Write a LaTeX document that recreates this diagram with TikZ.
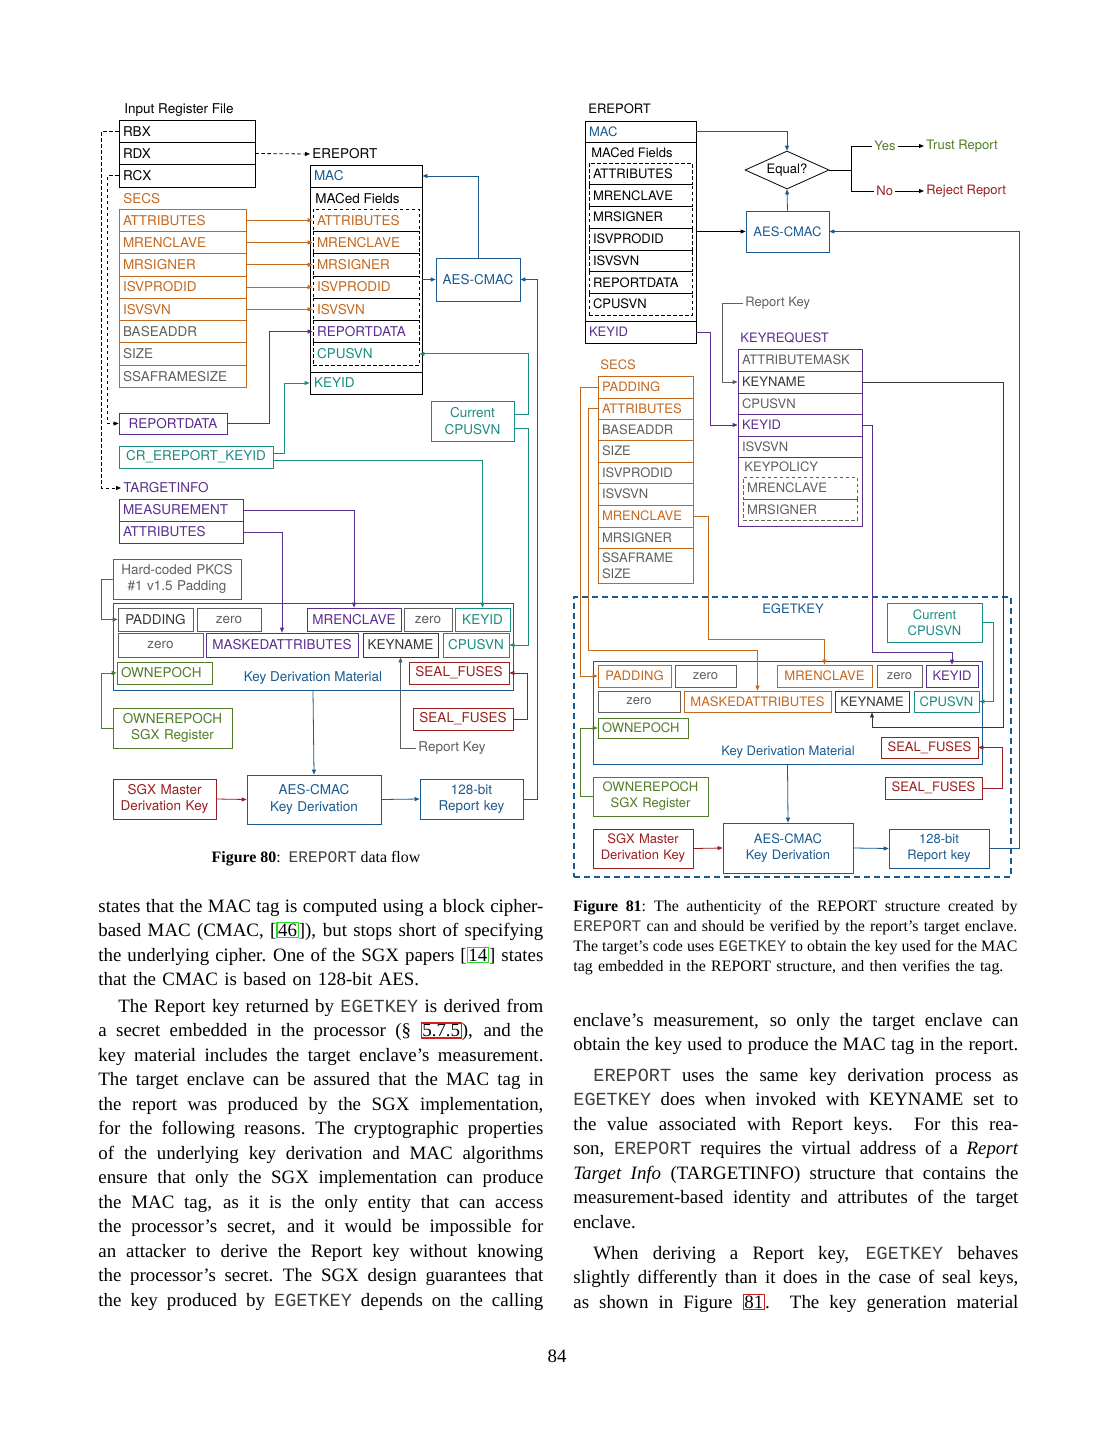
\documentclass[tikz,border=0pt]{standalone}
\usepackage{fontspec}
\setmainfont{Liberation Serif}
\setmonofont{Liberation Mono}
\newfontfamily\dgfont{TeX Gyre Heros}
\usetikzlibrary{arrows.meta,shapes.geometric}
\definecolor{cOr}{RGB}{196,104,30}
\definecolor{cPu}{RGB}{90,45,145}
\definecolor{cTe}{RGB}{25,140,130}
\definecolor{cBl}{RGB}{25,90,145}
\definecolor{cRd}{RGB}{155,30,30}
\definecolor{cGr}{RGB}{80,125,40}
\definecolor{cGy}{RGB}{95,95,95}
\definecolor{cDk}{RGB}{55,55,55}
\definecolor{lgr}{RGB}{40,215,40}
\definecolor{lrd}{RGB}{210,30,30}
\newcommand\dgL{\dgfont\fontsize{13.5}{16.5}\selectfont}
\newcommand\dgR{\dgfont\fontsize{13}{16}\selectfont}
\newcommand\bodyfont{\fontsize{18.9}{24.5}\selectfont}
\newcommand\capfont{\fontsize{15.9}{20}\selectfont}
\newcommand\ttx[1]{{\ttfamily\fontsize{18.5}{24.5}\selectfont\color{black!75}#1}}
\newcommand\ttc[1]{{\ttfamily\fontsize{16.2}{20}\selectfont\color{black!75}#1}}
\newcommand\lnk[2]{{\setlength\fboxsep{0.6pt}\setlength\fboxrule{1.2pt}\fcolorbox{#1}{white}{#2}}}
\newcommand\jline[2][445pt]{\hbox to #1{\spaceskip=0.25em plus 0.6em minus 0.12em\xspaceskip=0.3em plus 0.6em minus 0.12em\relax #2}}
\newcommand\nline[1]{\hbox{#1}}
\newcommand\bxcell[7][]{%
  \pgfmathsetmacro\cellw{#5-#3}%
  \pgfmathsetmacro\cellh{#6-#4}%
  \pgfmathsetmacro\celltw{#5-#3-8}%
  \node[cellbase,#1,minimum width=\cellw pt,minimum height=\cellh pt,text width=\celltw pt] (#2) at ({(#3+#5)/2},{(#4+#6)/2}) {#7};}
\begin{document}
\begin{tikzpicture}[x=1pt,y=-1pt,line width=0.8pt,
  cellbase/.style={draw,inner xsep=4pt,inner ysep=0pt,align=left,font=\dgL},
  ctr/.style={align=center},
  lab/.style={inner sep=2pt,anchor=west,font=\dgL},
  arw/.style={-{Triangle[length=5pt,width=4pt]}},
  dsh/.style={dash pattern=on 3.5pt off 2.5pt},
  para/.style={anchor=base west,inner sep=0pt,text width=445pt,font=\bodyfont}]
\fill[white] (0,0) rectangle (1113,1440);
\useasboundingbox (0,0) rectangle (1113,1440);

%================ LEFT DIAGRAM ================
\node[lab] (irf) at (122,110) {Input Register File};
\bxcell{rbx}{119}{120}{255}{142.3}{RBX}
\bxcell{rdx}{119}{142.3}{255}{164.7}{RDX}
\bxcell{rcx}{119}{164.7}{255}{187}{RCX}
\node[lab] (erl) at (310,154) {EREPORT};
\node[lab,text=cOr] (secsl) at (121,199) {SECS};
\bxcell[draw=cOr,text=cOr]{sA}{119}{209}{246}{231.3}{ATTRIBUTES}
\bxcell[draw=cOr,text=cOr]{sB}{119}{231.3}{246}{253.6}{MRENCLAVE}
\bxcell[draw=cOr,text=cOr]{sC}{119}{253.6}{246}{275.9}{MRSIGNER}
\bxcell[draw=cOr,text=cOr]{sD}{119}{275.9}{246}{298.1}{ISVPRODID}
\bxcell[draw=cOr,text=cOr]{sE}{119}{298.1}{246}{320.4}{ISVSVN}
\bxcell[draw=cOr,text=cGy]{sF}{119}{320.4}{246}{342.7}{BASEADDR}
\bxcell[draw=cOr,text=cGy]{sG}{119}{342.7}{246}{365}{SIZE}
\bxcell[draw=cOr,text=cGy]{sH}{119}{365}{246}{387.3}{SSAFRAMESIZE}

\bxcell[text=cBl]{mac}{310}{165}{422}{187}{MAC}
\bxcell{macf}{310}{187}{422}{372}{}
\node[lab] (macfl) at (313,199) {MACed Fields};
\bxcell[dsh,text=cOr]{eA}{313}{209}{419}{231.3}{ATTRIBUTES}
\bxcell[dsh,text=cOr]{eB}{313}{231.3}{419}{253.6}{MRENCLAVE}
\bxcell[dsh,text=cOr]{eC}{313}{253.6}{419}{275.9}{MRSIGNER}
\bxcell[dsh,text=cOr]{eD}{313}{275.9}{419}{298.1}{ISVPRODID}
\bxcell[dsh,text=cOr]{eE}{313}{298.1}{419}{320.4}{ISVSVN}
\bxcell[dsh,text=cPu]{eF}{313}{320.4}{419}{342.7}{REPORTDATA}
\bxcell[dsh,text=cTe]{eG}{313}{342.7}{419}{365}{CPUSVN}
\bxcell[text=cTe]{ekid}{310}{372}{422}{394}{KEYID}

\bxcell[draw=cBl,text=cBl,ctr]{aes}{436}{258}{520}{301}{AES-CMAC}
\bxcell[draw=cTe,text=cTe,ctr]{cur}{431}{401}{514}{441}{Current\\CPUSVN}
\bxcell[draw=cPu,text=cPu,ctr]{repd}{119}{413}{227}{434}{REPORTDATA}
\bxcell[draw=cTe,text=cTe,ctr]{cr}{119}{446}{273}{468}{CR\_EREPORT\_KEYID}
\node[lab,text=cPu] (til) at (121,488) {TARGETINFO};
\bxcell[draw=cPu,text=cPu]{tA}{119}{499}{243}{521}{MEASUREMENT}
\bxcell[draw=cPu,text=cPu]{tB}{119}{521}{243}{543}{ATTRIBUTES}
\bxcell[draw=cGy,text=cGy,ctr]{pkcs}{113}{559}{241}{599}{Hard-coded PKCS\\\#1 v1.5 Padding}

\bxcell[draw=cBl]{kdm}{113}{603}{513}{690}{}
\bxcell[draw=cGy,text=cDk,ctr]{pad}{118}{608}{193}{631}{PADDING}
\bxcell[draw=cGy,text=cGy,ctr]{zA}{197}{608}{261}{631}{zero}
\bxcell[draw=cPu,text=cPu,ctr]{mre}{307}{608}{401}{631}{MRENCLAVE}
\bxcell[draw=cGy,text=cGy,ctr]{zB}{404}{608}{452}{631}{zero}
\bxcell[draw=cTe,text=cTe,ctr]{kid}{455}{608}{510}{631}{KEYID}
\bxcell[draw=cGy,text=cGy,ctr]{zC}{118}{633}{203}{657}{zero}
\bxcell[draw=cPu,text=cPu,ctr]{mask}{206}{633}{358}{657}{MASKEDATTRIBUTES}
\bxcell[draw=cDk,text=cDk,ctr]{kn}{363}{633}{438}{657}{KEYNAME}
\bxcell[draw=cTe,text=cTe,ctr]{cpu}{443}{633}{509}{657}{CPUSVN}
\bxcell[draw=cGr,text=cGr]{own}{117}{662}{212}{684}{OWNEPOCH}
\bxcell[draw=cRd,text=cRd,ctr]{sf}{409}{662}{509}{684}{SEAL\_FUSES}
\node[lab,anchor=center,text=cBl] (kdml) at (313,678) {Key Derivation Material};
\bxcell[draw=cGr,text=cGr,ctr]{ownreg}{113}{708}{232}{748}{OWNEREPOCH\\SGX Register}
\bxcell[draw=cRd,text=cRd,ctr]{sfb}{413}{708}{513}{730}{SEAL\_FUSES}
\node[lab,text=cGy] (rkl) at (416,748) {Report Key};
\bxcell[draw=cBl,text=cBl,ctr]{aeskd}{247}{775}{381}{824}{AES-CMAC\\Key Derivation}
\bxcell[draw=cRd,text=cRd,ctr]{smk}{113}{779}{216}{819}{SGX Master\\Derivation Key}
\bxcell[draw=cBl,text=cBl,ctr]{rk}{420}{779}{523}{819}{128-bit\\Report key}

\draw[dsh,arw] (rdx.east) -- (erl.west);
\draw[dsh,arw] (rbx.west) -- ++(-17,0) |- (til.west);
\draw[dsh,arw] (rcx.west) -- ++(-11,0) |- (repd.west);
\foreach \a in {A,B,C,D,E} \draw[cOr,arw] (s\a.east) -- (e\a.west);
\draw[cPu,arw] (repd.east) -- ++(42,0) |- (eF.west);
\draw[cTe,arw] ([yshift=4pt]cr.east) -- ++(11,0) |- (ekid.west);
\draw[cTe,arw] ([yshift=-3pt]cr.east) -| (kid.north);
\draw[cPu,arw] (tA.east) -| (mre.north);
\draw[cPu,arw] (tB.east) -| (mask.north);
\draw[cGy,arw] (pkcs.west) -- ++(-11,0) |- (pad.west);
\draw[cGr,arw] (ownreg.west) -- ++(-11,0) |- (own.west);
\draw[cRd,arw] (sfb.east) -- ++(14,0) |- (sf.east);
\draw[cGy,arw] (rkl.west) -| (kn.south);
\draw[cBl,arw] (kdm.south) -- (aeskd.north);
\draw[cRd,arw] (smk.east) -- (aeskd.west);
\draw[cBl,arw] (aeskd.east) -- (rk.west);
\draw[cBl,arw] (rk.east) -- ++(14,0) |- (aes.east);
\draw[cTe,arw] ([yshift=7pt]cur.east) -- ++(14,0) |- (eG.east);
\draw[cTe,arw] ([yshift=-7pt]cur.east) -- ++(14,0) |- (cpu.east);
\draw[cBl,arw] (macf.east |- aes.west) -- (aes.west);
\draw[cBl,arw] (aes.north) |- (mac.east);

\node[anchor=base,font=\capfont] (cap80) at (316,862) {\textbf{Figure 80}:\hspace{8pt}\ttc{EREPORT} data flow};

%================ RIGHT DIAGRAM ================
\begin{scope}[cellbase/.append style={font=\dgR},lab/.append style={font=\dgR}]
\node[lab] (erl2) at (586,109) {EREPORT};
\bxcell[text=cBl]{mac2}{585}{121}{696}{142}{MAC}
\bxcell{macf2}{585}{142}{696}{321}{}
\node[lab] (macfl2) at (589,153) {MACed Fields};
\bxcell[dsh]{rA}{589}{163}{692}{184.7}{ATTRIBUTES}
\bxcell[dsh]{rB}{589}{184.7}{692}{206.4}{MRENCLAVE}
\bxcell[dsh]{rC}{589}{206.4}{692}{228.1}{MRSIGNER}
\bxcell[dsh]{rD}{589}{228.1}{692}{249.9}{ISVPRODID}
\bxcell[dsh]{rE}{589}{249.9}{692}{271.6}{ISVSVN}
\bxcell[dsh]{rF}{589}{271.6}{692}{293.3}{REPORTDATA}
\bxcell[dsh]{rG}{589}{293.3}{692}{315}{CPUSVN}
\bxcell[text=cPu]{kidr}{585}{321}{696}{343}{KEYID}

\node[draw,diamond,minimum width=84pt,minimum height=38pt,inner sep=0pt,aspect=2.2,font=\dgR] (eq) at (787,170) {Equal?};
\bxcell[draw=cBl,text=cBl,ctr]{aes2}{746}{211}{829}{252}{AES-CMAC}
\coordinate (br) at (851,170);
\node[lab,text=cGr] (yes) at (872,146) {Yes};
\node[lab,text=cGr] (trust) at (924,146) {Trust Report};
\node[lab,text=cRd] (no) at (874,191) {No};
\node[lab,text=cRd] (rej) at (924,191) {Reject Report};
\draw (eq.east) -- (br);
\draw (br) |- (yes.west);
\draw (br) |- (no.west);
\draw[arw] (yes.east) -- (trust.west);
\draw[arw] (no.east) -- (rej.west);
\draw[cBl,arw] (mac2.east) -| (eq.north);
\draw[cBl,arw] (aes2.north) -- (eq.south);
\draw[arw] (macf2.east |- aes2.west) -- (aes2.west);

\node[lab,text=cGy] (rk2l) at (743,303) {Report Key};
\node[lab,text=cPu] (krl) at (738,338) {KEYREQUEST};
\bxcell[draw=cPu,text=cGy]{kr1}{738}{349}{862}{371}{ATTRIBUTEMASK}
\bxcell[draw=cPu,text=cDk]{kr2}{738}{371}{862}{393}{KEYNAME}
\bxcell[draw=cPu,text=cGy]{kr3}{738}{393}{862}{414}{CPUSVN}
\bxcell[draw=cPu,text=cPu]{kr4}{738}{414}{862}{436}{KEYID}
\bxcell[draw=cPu,text=cGy]{kr5}{738}{436}{862}{457}{ISVSVN}
\bxcell[draw=cPu]{kp}{738}{457}{862}{526}{}
\node[lab,text=cGy] (kpl) at (742,467) {KEYPOLICY};
\bxcell[dsh,draw=cGy,text=cGy]{kpA}{743}{477}{857}{499}{MRENCLAVE}
\bxcell[dsh,draw=cGy,text=cGy]{kpB}{743}{499}{857}{520}{MRSIGNER}
\draw[cGy] (kpA.south west) -- (kpA.south east);
\draw[cGy,arw] (rk2l.west) -- ++(-21,0) |- (kr2.west);
\draw[cPu,arw] (kidr.east) -- ++(14,0) |- (kr4.west);

\node[lab,text=cOr] (secs2l) at (598,365) {SECS};
\bxcell[draw=cOr,text=cOr]{tA2}{598}{376}{693}{398}{PADDING}
\bxcell[draw=cOr,text=cOr]{tB2}{598}{398}{693}{419}{ATTRIBUTES}
\bxcell[draw=cOr,text=cGy]{tC2}{598}{419}{693}{440}{BASEADDR}
\bxcell[draw=cOr,text=cGy]{tD2}{598}{440}{693}{462}{SIZE}
\bxcell[draw=cOr,text=cGy]{tE2}{598}{462}{693}{483}{ISVPRODID}
\bxcell[draw=cOr,text=cGy]{tF2}{598}{483}{693}{505}{ISVSVN}
\bxcell[draw=cOr,text=cOr]{tG2}{598}{505}{693}{527}{MRENCLAVE}
\bxcell[draw=cOr,text=cGy]{tH2}{598}{527}{693}{548}{MRSIGNER}
\bxcell[draw=cOr,text=cGy]{tI2}{598}{548}{693}{583}{SSAFRAME\\SIZE}

\bxcell[draw=cBl,line width=1.6pt,dash pattern=on 6pt off 4pt]{egk}{574}{597}{1011}{877}{}
\node[lab,anchor=center,text=cBl] (egkl) at (793,609) {EGETKEY};
\bxcell[draw=cTe,text=cTe,ctr]{cur2}{887}{603}{982}{642}{Current\\CPUSVN}
\bxcell[draw=cBl]{kdm2}{593}{661}{982}{764}{}
\bxcell[draw=cOr,text=cOr,ctr]{pad2}{598}{665}{671}{687}{PADDING}
\bxcell[draw=cGy,text=cGy,ctr]{zA2}{675}{665}{736}{687}{zero}
\bxcell[draw=cOr,text=cOr,ctr]{mre2}{777}{665}{872}{687}{MRENCLAVE}
\bxcell[draw=cGy,text=cGy,ctr]{zB2}{877}{665}{922}{687}{zero}
\bxcell[draw=cPu,text=cPu,ctr]{kidk2}{926}{665}{978}{687}{KEYID}
\bxcell[draw=cGy,text=cGy,ctr]{zC2}{598}{691}{680}{712}{zero}
\bxcell[draw=cOr,text=cOr,ctr]{mask2}{684}{691}{831}{712}{MASKEDATTRIBUTES}
\bxcell[draw=cDk,text=cDk,ctr]{kn2}{835}{691}{909}{712}{KEYNAME}
\bxcell[draw=cTe,text=cTe,ctr]{cpu2}{914}{691}{979}{712}{CPUSVN}
\bxcell[draw=cGr,text=cGr]{own2}{598}{718}{688}{738}{OWNEPOCH}
\bxcell[draw=cRd,text=cRd,ctr]{sf21}{881}{737}{978}{758}{SEAL\_FUSES}
\node[lab,anchor=center,text=cBl] (kdml2) at (788,752) {Key Derivation Material};
\bxcell[draw=cGr,text=cGr,ctr]{ownreg2}{593}{777}{708}{816}{OWNEREPOCH\\SGX Register}
\bxcell[draw=cRd,text=cRd,ctr]{sf22}{885}{777}{982}{799}{SEAL\_FUSES}
\bxcell[draw=cBl,text=cBl,ctr]{aeskd2}{723}{823}{853}{873}{AES-CMAC\\Key Derivation}
\bxcell[draw=cRd,text=cRd,ctr]{smk2}{593}{829}{693}{868}{SGX Master\\Derivation Key}
\bxcell[draw=cBl,text=cBl,ctr]{rkb2}{889}{829}{989}{868}{128-bit\\Report key}

\draw[cOr,arw] (tA2.west) -- ++(-17,0) |- (pad2.west);
\draw[cOr,arw] (tB2.west) -- ++(-9,0) -- ++(0,241.5) -| (mask2.north);
\draw[cOr,arw] (tG2.east) -- ++(15,0) -- ++(0,123) -| (mre2.north);
\draw[cDk,arw] (kr2.east) -- ++(141,0) -- ++(0,345) -| (kn2.south);
\draw[cPu,arw] (kr4.east) -- ++(10,0) -- ++(0,227) -| (kidk2.north);
\draw[cTe,arw] (cur2.east) -- ++(11,0) |- (cpu2.east);
\draw[cGr,arw] (ownreg2.west) -- ++(-12,0) |- (own2.west);
\draw[cRd,arw] (sf22.east) -- ++(20,0) |- (sf21.east);
\draw[cBl,arw] (kdm2.south) -- (aeskd2.north);
\draw[cRd,arw] (smk2.east) -- (aeskd2.west);
\draw[cBl,arw] (aeskd2.east) -- (rkb2.west);
\draw[cBl,arw] (rkb2.east) -- ++(30,0) |- (aes2.east);
\end{scope}

%================ CAPTION 81 ================
\node[anchor=base west,inner sep=0pt,text width=444pt,font=\capfont] (cap81) at (573,911) {%
\jline[444pt]{\textbf{Figure 81}:\hspace{8pt}The authenticity of the REPORT structure created by}
\jline[444pt]{\ttc{EREPORT} can and should be verified by the report's target enclave.}
\jline[444pt]{The target's code uses \ttc{EGETKEY} to obtain the key used for the MAC}
\nline{tag embedded in the REPORT structure, and then verifies the tag.}};

%================ BODY TEXT ================
\node[para] (p1) at (98,912) {%
\jline{states that the MAC tag is computed using a block cipher-}
\jline{based MAC (CMAC, [\lnk{lgr}{46}]), but stops short of specifying}
\jline{the underlying cipher. One of the SGX papers [\lnk{lgr}{14}] states}
\nline{that the CMAC is based on 128-bit AES.}};

\node[para] (p2) at (98,1012) {%
\jline{\hspace{20pt}The Report key returned by \ttx{EGETKEY} is derived from}
\jline{a secret embedded in the processor (\S\ \lnk{lrd}{5.7.5}), and the}
\jline{key material includes the target enclave's measurement.}
\jline{The target enclave can be assured that the MAC tag in}
\jline{the report was produced by the SGX implementation,}
\jline{for the following reasons. The cryptographic properties}
\jline{of the underlying key derivation and MAC algorithms}
\jline{ensure that only the SGX implementation can produce}
\jline{the MAC tag, as it is the only entity that can access}
\jline{the processor's secret, and it would be impossible for}
\jline{an attacker to derive the Report key without knowing}
\jline{the processor's secret. The SGX design guarantees that}
\jline{the key produced by \ttx{EGETKEY} depends on the calling}};

\node[para] (p3) at (573,1026) {%
\jline{enclave's measurement, so only the target enclave can}
\jline{obtain the key used to produce the MAC tag in the report.}};

\node[para] (p4) at (573,1081) {%
\jline{\hspace{20pt}\ttx{EREPORT} uses the same key derivation process as}
\jline{\ttx{EGETKEY} does when invoked with KEYNAME set to}
\jline{the value associated with Report keys.\ \ For this rea-}
\jline{son, \ttx{EREPORT} requires the virtual address of a \textit{Report}}
\jline{\textit{Target Info} (TARGETINFO) structure that contains the}
\jline{measurement-based identity and attributes of the target}
\nline{enclave.}};

\node[para] (p5) at (573,1259) {%
\jline{\hspace{20pt}When deriving a Report key, \ttx{EGETKEY} behaves}
\jline{slightly differently than it does in the case of seal keys,}
\jline{as shown in Figure \lnk{lrd}{81}.\ \ The key generation material}};

\node[anchor=base,inner sep=0pt,font=\bodyfont] (pg) at (557,1362) {84};
\end{tikzpicture}
\end{document}
